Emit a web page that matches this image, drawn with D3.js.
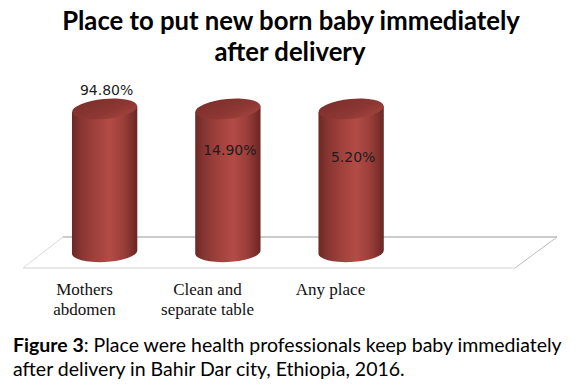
<!DOCTYPE html>
<html><head><meta charset="utf-8">
<script src="https://cdn.jsdelivr.net/npm/d3@7"></script>
<style>body{margin:0;background:#fff}svg{display:block}</style>
</head><body><svg id="c" width="582" height="392"></svg>
<script>
// ---- data ----
const categories = [["Mothers", "abdomen"], ["Clean and", "separate table"], ["Any place"]];
const values = [94.8, 14.9, 5.2];
const valueLabels = ["94.80%", "14.90%", "5.20%"];
const titleLines = ["Place to put new born baby immediately", "after delivery"];
const captionBold = "Figure 3";
const captionLines = [": Place were health professionals keep baby immediately",
                      "after delivery in Bahir Dar city, Ethiopia, 2016."];
const slotCount = 4; // the 3-D floor has room for four categories

// ---- layout ----
const svg = d3.select("#c");
const depthX = 20, backDy = 15, frontDy = 16;
const slots = d3.range(slotCount);
const x = d3.scaleBand().domain(slots).range([43, 536]);
const xFront = d3.scaleBand().domain(slots).range([23, 515]);
// value axis of the original is capped below the smallest value, so every cylinder reaches the top
const y = d3.scaleLinear().domain([0, 5]).range([252, 109]).clamp(true);
const yLabel = d3.scaleLinear().domain([0, 100]).range([166, 91]);
const base = y(0);

const defs = svg.append("defs");
const gBody = defs.append("linearGradient").attr("id", "gbody").attr("x1", 0).attr("x2", 1).attr("y1", 0).attr("y2", 0);
[[0, "#6b2825"], [0.12, "#843431"], [0.35, "#a0413c"], [0.58, "#b34b46"], [0.78, "#9c3f3a"], [0.92, "#7e302d"], [1, "#692623"]]
  .forEach(([o, c]) => gBody.append("stop").attr("offset", o).attr("stop-color", c));
const gTop = defs.append("linearGradient").attr("id", "gtop").attr("x1", 0).attr("x2", 1).attr("y1", 0).attr("y2", 1);
[[0, "#7a2e2b"], [0.6, "#8d3733"], [1, "#a8463f"]]
  .forEach(([o, c]) => gTop.append("stop").attr("offset", o).attr("stop-color", c));

// ---- floor ----
const xl = x.range()[0], xr = x.range()[1];
const floor = svg.append("g").attr("fill", "none");
floor.append("line").attr("x1", xl + depthX).attr("x2", xr + depthX + 1)
  .attr("y1", base - backDy).attr("y2", base - backDy).attr("stroke", "#9a9a9a").attr("stroke-width", 1.2);
floor.append("line").attr("x1", xFront.range()[0]).attr("x2", xFront.range()[1])
  .attr("y1", base + frontDy).attr("y2", base + frontDy).attr("stroke", "#d4d4d4").attr("stroke-width", 1.2);
floor.append("line").attr("x1", xl + depthX).attr("y1", base - backDy)
  .attr("x2", xFront.range()[0]).attr("y2", base + frontDy).attr("stroke", "#d8d8d8");
floor.append("line").attr("x1", xr + depthX + 1).attr("y1", base - backDy)
  .attr("x2", xFront.range()[1]).attr("y2", base + frontDy).attr("stroke", "#bcbcbc");

// ---- cylinders ----
const cw = x.bandwidth() * 0.53, rx = cw / 2, ry = 10, tilt = 3;
const cyl = svg.append("g").selectAll("g").data(values).join("g");
cyl.append("path")
  .attr("fill", "url(#gbody)")
  .attr("d", (d, i) => {
    const cx = x(i) + x.bandwidth() / 2, t = y(d);
    return `M${cx - rx},${t + tilt} L${cx - rx},${base + 1.5} A${rx},${ry} -3 0 0 ${cx + rx},${base - 1.5} L${cx + rx},${t - tilt} Z`;
  });
cyl.append("ellipse")
  .attr("fill", "url(#gtop)")
  .attr("rx", rx).attr("ry", ry)
  .attr("transform", (d, i) => `translate(${x(i) + x.bandwidth() / 2},${y(d)}) rotate(-5.5)`);

// ---- value labels ----
svg.append("g").selectAll("text").data(values).join("text")
  .attr("x", (d, i) => x(i) + x.bandwidth() / 2 + 2)
  .attr("y", d => yLabel(d))
  .attr("text-anchor", "middle")
  .attr("font-family", "DejaVu Sans, Verdana, sans-serif")
  .attr("font-size", 14).attr("fill", "#1c1c1c")
  .text((d, i) => valueLabels[i]);

// ---- category labels ----
const cat = svg.append("g").selectAll("text").data(categories).join("text")
  .attr("text-anchor", "middle")
  .attr("font-family", "Liberation Serif, Times New Roman, serif")
  .attr("font-size", 17).attr("fill", "#111");
cat.selectAll("tspan").data((d, i) => d.map(s => ({ s, i }))).join("tspan")
  .attr("x", d => xFront(d.i) + xFront.bandwidth() / 2)
  .attr("y", (d, j) => 295 + j * 20)
  .text(d => d.s);

// ---- title ----
const fitWidth = (sel, target) => {
  const fs = +sel.attr("font-size");
  const w = sel.node().getComputedTextLength();
  sel.attr("font-size", fs * target / w);
};
const title = svg.append("g").attr("font-family", "Lato, Open Sans, sans-serif").attr("font-weight", 700).attr("fill", "#000");
const t1 = title.append("text").attr("x", 291).attr("y", 30).attr("text-anchor", "middle").attr("font-size", 26).text(titleLines[0]);
fitWidth(t1, 458);
title.append("text").attr("x", 290).attr("y", 61).attr("text-anchor", "middle").attr("font-size", t1.attr("font-size")).text(titleLines[1]);

// ---- caption ----
const cap = svg.append("g").attr("font-family", "Lato, Open Sans, sans-serif").attr("fill", "#000");
const c1 = cap.append("text").attr("x", 13).attr("y", 352).attr("font-size", 20);
c1.append("tspan").attr("font-weight", 700).text(captionBold);
c1.append("tspan").text(captionLines[0]);
fitWidth(c1, 549);
cap.append("text").attr("x", 13).attr("y", 376).attr("font-size", c1.attr("font-size")).text(captionLines[1]);
</script></body></html>
